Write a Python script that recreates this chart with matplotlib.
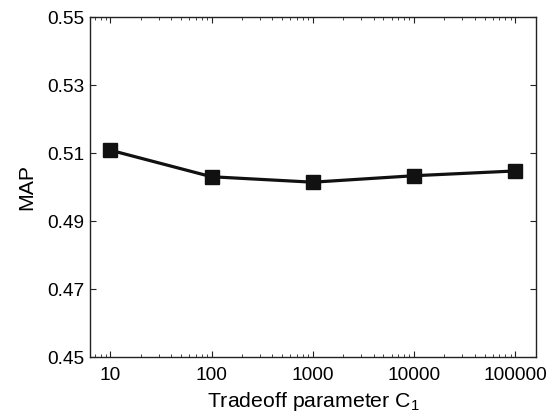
import matplotlib
matplotlib.use("Agg")
import matplotlib.pyplot as plt
from matplotlib.ticker import LogLocator, NullFormatter, FixedLocator, FixedFormatter

plt.rcParams['font.family'] = ['Liberation Sans', 'DejaVu Sans']
plt.rcParams['mathtext.default'] = 'regular'

c_values = [10, 100, 1000, 10000, 100000]
c_labels = ['10', '100', '1000', '10000', '100000']
map_values = [0.5109, 0.5031, 0.5015, 0.5034, 0.5048]
y_ticks = [0.45, 0.47, 0.49, 0.51, 0.53, 0.55]

fig = plt.figure(figsize=(5.49, 4.19), dpi=100)
ax = fig.add_axes([0.164, 0.147, 0.812, 0.812])
ax.plot(c_values, map_values, color='#111111', linewidth=2.3, marker='s',
        markersize=10, markerfacecolor='#111111', markeredgecolor='#111111')
ax.set_xscale('log')
ax.set_xlim(6.3, 160000)
ax.set_ylim(0.45, 0.55)
ax.xaxis.set_major_locator(FixedLocator(c_values))
ax.xaxis.set_major_formatter(FixedFormatter(c_labels))
ax.xaxis.set_minor_locator(LogLocator(base=10, subs=range(2, 10), numticks=20))
ax.xaxis.set_minor_formatter(NullFormatter())
ax.set_yticks(y_ticks)
ax.set_yticklabels(['%.2f' % v for v in y_ticks])
ax.tick_params(which='both', direction='in', top=True, right=True, labelsize=13.8, color='#222222')
ax.tick_params(axis='x', which='major', pad=7)
ax.tick_params(axis='y', which='major', pad=4)
ax.tick_params(which='major', length=4, width=0.8)
ax.tick_params(which='minor', length=2, width=0.6)
for s in ax.spines.values():
    s.set_linewidth(1.0)
    s.set_color('#222222')
ax.set_xlabel('Tradeoff parameter C$_1$', fontsize=15.3, labelpad=4)
ax.set_ylabel('MAP', fontsize=15.3, labelpad=8)
fig.savefig('out.png', dpi=100)
